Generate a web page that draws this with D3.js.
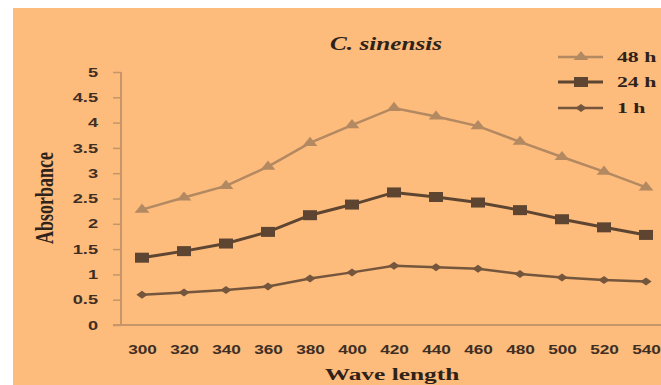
<!DOCTYPE html>
<html><head><meta charset="utf-8">
<script src="https://cdn.jsdelivr.net/npm/d3@7"></script>
<style>html,body{margin:0;padding:0;background:#fff;overflow:hidden}</style>
</head><body><svg id="c" width="661" height="385"></svg>
<script>
const wavelengths = [300,320,340,360,380,400,420,440,460,480,500,520,540];
const h48 = [2.28,2.52,2.75,3.13,3.60,3.95,4.29,4.12,3.93,3.62,3.32,3.03,2.72];
const h24 = [1.33,1.46,1.61,1.84,2.17,2.38,2.62,2.53,2.42,2.27,2.09,1.93,1.78];
const h1  = [0.60,0.64,0.69,0.76,0.92,1.04,1.17,1.14,1.11,1.01,0.94,0.89,0.86];
const yTicks = [0,0.5,1,1.5,2,2.5,3,3.5,4,4.5,5];
const seriesNames = ["48 h","24 h","1 h"];

const SX = 1.4; // horizontal stretch seen in the reference
const svg = d3.select("#c");
svg.append("rect").attr("x",13).attr("y",8).attr("width",661).attr("height",400).attr("fill","#FDBB7C");

const pLeft=121, pTop=72, pBottom=325;
const x = d3.scalePoint().domain(wavelengths).range([pLeft+21, pLeft+21+12*42.0]);
const y = d3.scaleLinear().domain([0,5]).range([pBottom, pTop]);

const axisCol="#C4966A", tickCol="#3e2f24", textCol="#2f2218";
const sansF="Liberation Sans, Arial, sans-serif", serifF="Liberation Serif, Times New Roman, serif";
// y axis
const ya = svg.append("g").attr("transform",`translate(${pLeft},0)`)
  .call(d3.axisLeft(y).tickValues(yTicks).tickSize(8).tickFormat(d=>String(d)));
ya.select(".domain").attr("stroke",axisCol).attr("stroke-width",2).attr("d",`M0,${pTop}V${pBottom}`);
ya.selectAll(".tick line").attr("stroke",axisCol).attr("stroke-width",1.5);
ya.selectAll(".tick text").attr("x",-23/SX).attr("transform",`scale(${SX},1)`).attr("fill",tickCol)
  .attr("font-family",sansF).attr("font-weight","bold").attr("font-size",13);
// x axis
svg.append("line").attr("x1",pLeft-8).attr("x2",661).attr("y1",pBottom).attr("y2",pBottom)
  .attr("stroke",axisCol).attr("stroke-width",2);
const xa = svg.append("g").attr("transform",`translate(0,${pBottom})`)
  .call(d3.axisBottom(x).tickSize(0).tickFormat(d=>String(d)));
xa.select(".domain").remove();
xa.selectAll(".tick text").attr("dy",0).attr("y",29).attr("transform",`scale(1.38,1)`).attr("fill",tickCol)
  .attr("font-family",sansF).attr("font-weight","bold").attr("font-size",12.5);

const rhombus = {draw(ctx,size){const r=Math.sqrt(size/2);ctx.moveTo(0,-r);ctx.lineTo(r,0);ctx.lineTo(0,r);ctx.lineTo(-r,0);ctx.closePath();}};
const series = [
  {name:seriesNames[0], vals:h48, col:"#B38962", sym:d3.symbolTriangle, size:48, w:2.5},
  {name:seriesNames[1], vals:h24, col:"#5E4532", sym:d3.symbolSquare, size:100, w:3},
  {name:seriesNames[2], vals:h1, col:"#74563D", sym:rhombus, size:32, w:2.5}
];
const line = d3.line().x((d,i)=>x(wavelengths[i])).y(d=>y(d));
series.forEach(s=>{
  svg.append("path").datum(s.vals).attr("d",line).attr("fill","none").attr("stroke",s.col).attr("stroke-width",s.w);
  svg.selectAll(null).data(s.vals).enter().append("path")
    .attr("d",d3.symbol().type(s.sym).size(s.size))
    .attr("transform",(d,i)=>`translate(${x(wavelengths[i])},${y(d)}) scale(${SX},1)`)
    .attr("fill",s.col);
});

function stext(px,py,str,size,opts={}){
  const t=svg.append("text").attr("transform",`translate(${px},${py}) scale(${opts.sx||SX},1)${opts.rot?` rotate(${opts.rot})`:""}`)
    .attr("text-anchor",opts.anchor||"middle").attr("font-family",opts.font||serifF).attr("font-weight","bold")
    .attr("font-size",size).attr("fill",textCol).text(str);
  if(opts.italic) t.attr("font-style","italic");
  return t;
}
// title
stext(386,50,"C. sinensis",18,{italic:true});
// axis titles
stext(53,198,"Absorbance",18,{rot:-90});
stext(392,380,"Wave length",17.5,{sx:1.45});

// legend
const ly=[57,82,108];
series.forEach((s,i)=>{
  const g=svg.append("g").attr("transform",`translate(0,${ly[i]})`);
  g.append("line").attr("x1",558).attr("x2",603).attr("stroke",s.col).attr("stroke-width",s.w);
  g.append("path").attr("d",d3.symbol().type(s.sym).size(s.size)).attr("transform",`translate(581,0) scale(${SX},1)`).attr("fill",s.col);
  stext(617,ly[i]+5,s.name,15,{anchor:"start",sx:1.45});
});
</script></body></html>
